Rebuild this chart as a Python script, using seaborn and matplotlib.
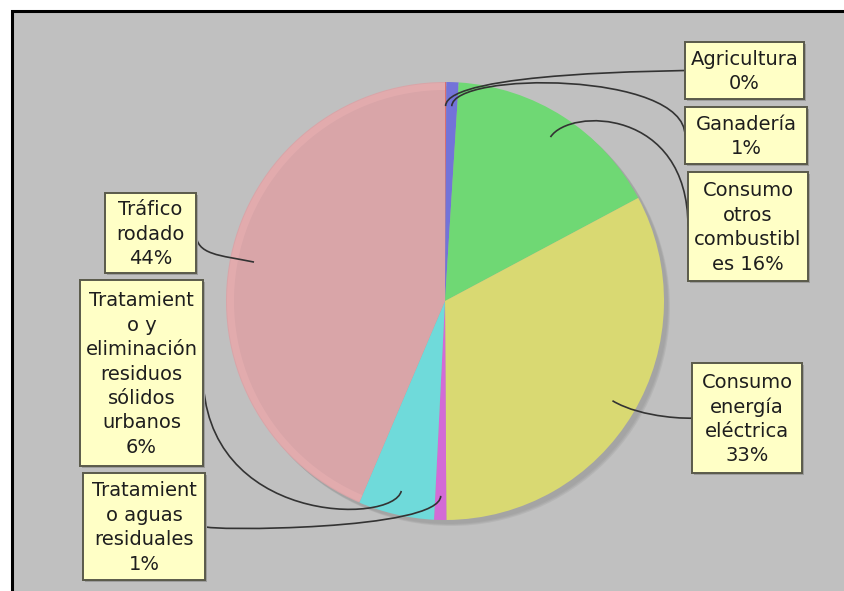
import matplotlib
matplotlib.use("Agg")
import numpy as np
import matplotlib.pyplot as plt
import seaborn as sns
from matplotlib.patches import Rectangle, Circle, Wedge, PathPatch
from matplotlib.path import Path

# Emission shares by source (%), drawn clockwise from 12 o'clock
categories = [
    "Agricultura",
    "Ganadería",
    "Consumo otros combustibles",
    "Consumo energía eléctrica",
    "Tratamiento aguas residuales",
    "Tratamiento y eliminación residuos sólidos urbanos",
    "Tráfico rodado",
]
shares = [0.1, 0.9, 16.2, 32.7, 0.9, 5.6, 43.6]

# Wrapped label text; the percentage is filled in from the share
label_templates = [
    "Agricultura\n{:.0f}%",
    "Ganadería\n{:.0f}%",
    "Consumo\notros\ncombustibl\nes {:.0f}%",
    "Consumo\nenergía\neléctrica\n{:.0f}%",
    "Tratamient\no aguas\nresiduales\n{:.0f}%",
    "Tratamient\no y\neliminación\nresiduos\nsólidos\nurbanos\n{:.0f}%",
    "Tráfico\nrodado\n{:.0f}%",
]

slice_colors = ["#DA6E6E", "#7373D9", "#6FD874", "#D9D972",
                "#D36BD6", "#6FDADA", "#D9A5A8"]

# Label boxes in pixel coordinates (left, top, right, bottom), top-down y
label_boxes = [
    (685, 42, 804, 99),
    (685, 107, 807, 164),
    (688, 172, 808, 281),
    (692, 363, 802, 473),
    (83, 473, 205, 580),
    (80, 280, 203, 466),
    (105, 193, 196, 273),
]

W, H = 844, 591
CX, CY_TOP, R = 445, 301, 219

sns.set_theme(style="white")
plt.rcParams["font.family"] = ["DejaVu Sans"]


def fy(y):
    """Convert a top-down pixel row into the axes' upward y."""
    return H - y


fig = plt.figure(figsize=(W / 100, H / 100), dpi=100)
fig.patch.set_facecolor("white")
ax = fig.add_axes([0, 0, 1, 1])

# Grey plot panel with a black frame, running past the right and bottom edges
ax.add_patch(Rectangle((12, fy(700)), 900, 700 - 11, facecolor="#C0C0C0",
                       edgecolor="black", linewidth=2.2, zorder=0))

cx, cy = CX, fy(CY_TOP)

# Soft drop shadow of the pie
for off, alpha in [(6, 0.35), (5, 0.5), (4, 0.7)]:
    ax.add_patch(Circle((cx + off, cy - off), R, facecolor="#A2A2A2",
                        edgecolor="none", alpha=alpha, zorder=1))

wedges, _ = ax.pie(shares, colors=slice_colors, startangle=90,
                   counterclock=False, radius=R, center=(cx, cy),
                   frame=True, wedgeprops=dict(linewidth=0))
for w in wedges:
    w.set_zorder(2)

# Light rim along the outer edge of the largest slice
total = float(sum(shares))
cum = np.concatenate([[0.0], np.cumsum(shares)]) / total
last = len(shares) - 1
t1 = 90 - 360 * cum[last + 1]
t2 = 90 - 360 * cum[last]
ax.add_patch(Wedge((cx, cy), R - 1, t1, t2, width=7, facecolor="#EDB3B5",
                   edgecolor="none", alpha=0.45, zorder=3))

# Curved label links and label boxes
for i, (tmpl, box) in enumerate(zip(label_templates, label_boxes)):
    mid = 2 * np.pi * (cum[i] + cum[i + 1]) / 2
    dx, dy = np.sin(mid), np.cos(mid)
    p0 = (cx + 0.89 * R * dx, cy + 0.89 * R * dy)
    p1 = (cx + 1.05 * R * dx, cy + 1.05 * R * dy)
    left, top, right, bottom = box
    right_side = left > CX
    tx = left if right_side else right
    ty = fy((top + bottom) / 2)
    p2 = (tx, p1[1])
    path = Path([p0, p1, p2, (tx, ty)],
                [Path.MOVETO, Path.CURVE4, Path.CURVE4, Path.CURVE4])
    ax.add_patch(PathPatch(path, facecolor="none", edgecolor="#333333",
                           linewidth=1.2, zorder=4))

    bw, bh = right - left, bottom - top
    ax.add_patch(Rectangle((left + 2, fy(bottom) - 2), bw, bh,
                           facecolor="#9C9C9C", edgecolor="none", zorder=5))
    ax.add_patch(Rectangle((left, fy(bottom)), bw, bh, facecolor="#FFFFC6",
                           edgecolor="#5A5A4A", linewidth=1.4, zorder=6))
    ax.text((left + right) / 2, fy((top + bottom) / 2) - 1,
            tmpl.format(shares[i]),
            ha="center", va="center", multialignment="center",
            fontsize=14, linespacing=1.36, color="#1E1E1E", zorder=7)

ax.set_xlim(0, W)
ax.set_ylim(0, H)
ax.set_aspect("auto")
ax.axis("off")

fig.savefig("out.png", dpi=100, facecolor="white")
